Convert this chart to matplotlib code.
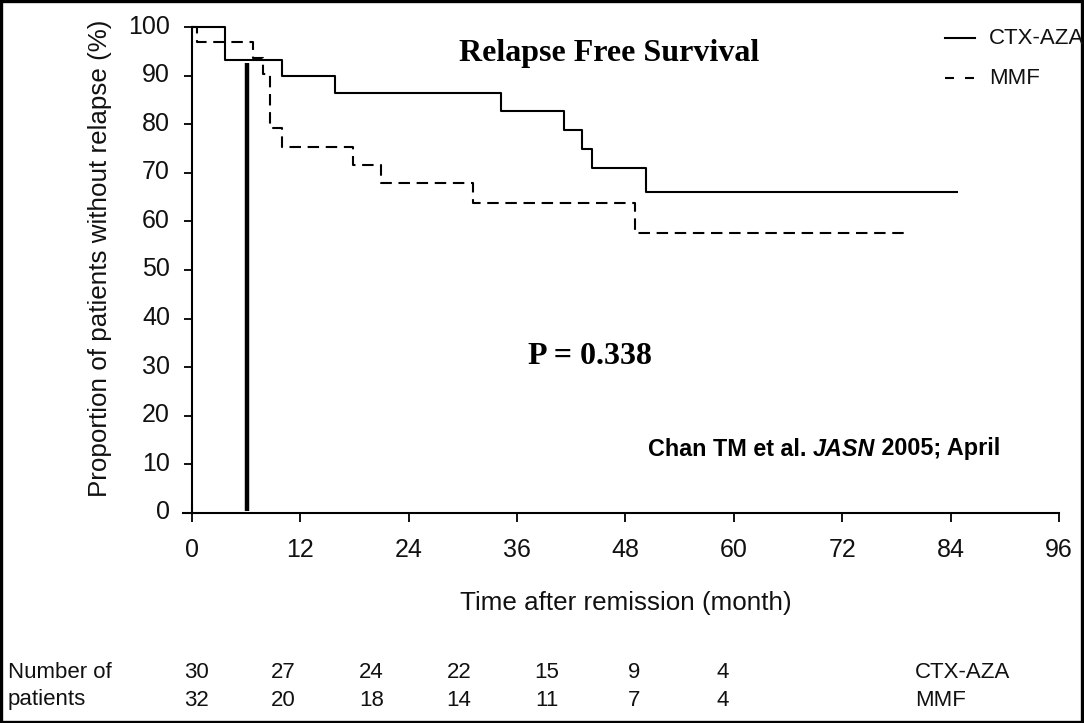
import matplotlib
matplotlib.use("Agg")
import matplotlib.pyplot as plt
import matplotlib.transforms as mtransforms
from matplotlib import font_manager
from matplotlib.lines import Line2D
from matplotlib.patches import Rectangle

# Kaplan-Meier step data (months, % relapse free)
ctx_months = [0, 3.7, 10.0, 15.9, 34.2, 41.2, 43.2, 44.3, 50.3, 84.7]
ctx_surv = [100, 93.3, 89.9, 86.5, 82.7, 78.9, 74.9, 71.0, 66.0, 66.0]
mmf_months = [0, 0.55, 6.8, 7.9, 8.7, 10.0, 17.9, 20.9, 31.1, 49.1, 78.8]
mmf_surv = [100, 96.9, 93.75, 90.4, 79.2, 75.4, 71.7, 67.9, 63.9, 57.7, 57.7]
marker_month = 6.1
marker_top = 92.6

x_ticks = [0, 12, 24, 36, 48, 60, 72, 84, 96]
y_ticks = [0, 10, 20, 30, 40, 50, 60, 70, 80, 90, 100]

risk_ctx = [30, 27, 24, 22, 15, 9, 4]
risk_mmf = [32, 20, 18, 14, 11, 7, 4]
group_names = ["CTX-AZA", "MMF"]

W, H = 1084, 723
plt.rcParams["font.family"] = ["Liberation Sans", "DejaVu Sans"]

# condensed face for the at-risk table, if present
installed = {f.name for f in font_manager.fontManager.ttflist}
if "Liberation Sans Narrow" in installed:
    table_family, table_size = ["Liberation Sans Narrow", "Liberation Sans"], 18
else:
    table_family, table_size = ["Liberation Sans", "DejaVu Sans"], 16

fig = plt.figure(figsize=(W / 100, H / 100), dpi=100)


def fx(px):
    return px / W


def fy(py):
    return 1 - py / H


ax = fig.add_axes([fx(182.7), fy(512.7), fx(1059 - 182.7), (512.7 - 27.3) / H])
ax.set_xlim(-1.0, 96)
ax.set_ylim(0, 100)
ax.spines["left"].set_position(("data", 0))
for s in ("top", "right"):
    ax.spines[s].set_visible(False)
for s in ("left", "bottom"):
    ax.spines[s].set_linewidth(1.5)
ax.set_xticks(x_ticks)
ax.set_yticks(y_ticks)
ax.tick_params(axis="both", direction="out", width=1.4, labelsize=18,
               colors="#111111")
ax.tick_params(axis="x", length=6.5, pad=12)
ax.tick_params(axis="y", length=6, pad=9.7)
lift = mtransforms.ScaledTranslation(0, 3 / 100, fig.dpi_scale_trans)
for lbl in ax.get_yticklabels():
    lbl.set_transform(lbl.get_transform() + lift)
ax.patch.set_alpha(0)

ax.step(ctx_months, ctx_surv, where="post", color="black", lw=1.5,
        clip_on=False)
ax.step(mmf_months, mmf_surv, where="post", color="black", lw=1.5,
        dashes=(5.5, 3.2), clip_on=False)
ax.vlines(marker_month, 0.4, marker_top, color="black", lw=3.2)

fig.text(fx(100), fy(258), "Proportion of patients without relapse (%)",
         rotation=90, ha="center", va="center", fontsize=18.7, color="#111111")
fig.text(fx(626), fy(603), "Time after remission (month)",
         ha="center", va="center", fontsize=18.7, color="#111111")

fig.text(fx(609), fy(54), "Relapse Free Survival", ha="center", va="center",
         fontsize=23, fontweight="bold", family="Liberation Serif")
fig.text(fx(590), fy(357), "P = 0.338", ha="center", va="center",
         fontsize=23, fontweight="bold", family="Liberation Serif")

# citation with an italic journal name, laid out piece by piece
fig.canvas.draw()
renderer = fig.canvas.get_renderer()
pieces = [("Chan TM et al. ", "normal"), ("JASN", "italic"), (" 2005; April", "normal")]
xcur = 648
for txt, style in pieces:
    t = fig.text(fx(xcur), fy(449), txt, ha="left", va="center", fontsize=16.8,
                 fontweight="bold", fontstyle=style)
    bb = t.get_window_extent(renderer=renderer)
    xcur += bb.width

# legend
leg_y = [38, 78]
leg_styles = [dict(ls="-"), dict(dashes=(4.3, 5.3))]
for name, yy, st in zip(group_names, leg_y, leg_styles):
    fig.add_artist(Line2D([fx(945), fx(975)], [fy(yy), fy(yy)], color="black",
                          lw=1.5, **st))
    fig.text(fx(989), fy(yy + 1), name, ha="left", va="center", fontsize=16,
             color="#111111")

# number at risk table
col_x = [196 + 87.7 * i for i in range(len(risk_ctx))]
row_y = [672, 700]
tkw = dict(va="center", fontsize=table_size, family=table_family, color="#111111")
fig.text(fx(8), fy(row_y[0]), "Number of", ha="left", **tkw)
fig.text(fx(8), fy(row_y[1]), "patients", ha="left", **tkw)
for row, yy, name in zip([risk_ctx, risk_mmf], row_y, group_names):
    for v, xx in zip(row, col_x):
        fig.text(fx(xx), fy(yy), str(v), ha="center", **tkw)
    fig.text(fx(915), fy(yy), name, ha="left", **tkw)

# outer frame
fig.add_artist(Rectangle((0.001, 0.002), 0.997, 0.996, transform=fig.transFigure,
                         fill=False, lw=2.4, ec="black"))

fig.savefig("out.png", dpi=100)
